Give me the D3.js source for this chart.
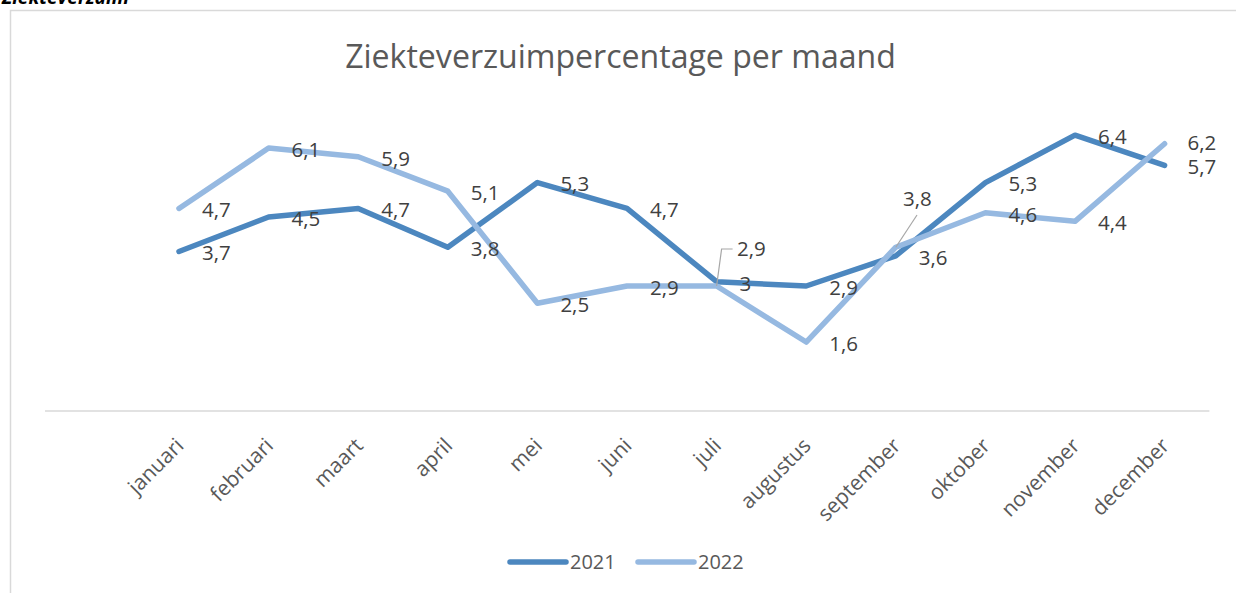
<!DOCTYPE html>
<html>
<head>
<meta charset="utf-8">
<script src="https://cdn.jsdelivr.net/npm/d3@7"></script>
<style>
  html, body { margin: 0; padding: 0; background: #fff; overflow: hidden; }
  svg { display: block; font-family: "Open Sans", sans-serif; }
</style>
</head>
<body>
<svg id="chart" width="1236" height="593"></svg>
<script>
const months = ["januari","februari","maart","april","mei","juni","juli","augustus","september","oktober","november","december"];
const values2021 = [3.7,4.5,4.7,3.8,5.3,4.7,3,2.9,3.6,5.3,6.4,5.7];
const values2022 = [4.7,6.1,5.9,5.1,2.5,2.9,2.9,1.6,3.8,4.6,4.4,6.2];
const seriesNames = ["2021","2022"];
const titleText = "Ziekteverzuimpercentage per maand";
const headingText = "Ziekteverzuim";

const colors = {"2021": "#4c87bf", "2022": "#96b9e1"};
const svg = d3.select("#chart");

// heading (cut off at top)
svg.append("text").attr("x", 2).attr("y", 4)
  .attr("font-weight", "bold").attr("font-style", "italic")
  .attr("font-size", 19).attr("fill", "#000").text(headingText);

// chart frame
svg.append("path").attr("d", "M10.5,593 V10.5 H1236")
  .attr("fill", "none").attr("stroke", "#d9d9d9").attr("stroke-width", 1.5);

const x = d3.scaleBand().domain(months).range([134.2, 1209.4]);
const cx = m => x(m) + x.bandwidth() / 2;
const y = d3.scaleLinear().domain([0, 7]).range([411, 109.3]);

// title
const title = svg.append("text").attr("x", 620.5).attr("y", 68)
  .attr("text-anchor", "middle").attr("fill", "#595959")
  .attr("font-size", 30).text(titleText);
const tw = title.node().getComputedTextLength();
title.attr("font-size", 30 * 551 / tw);

// category axis line
svg.append("line").attr("x1", 45).attr("x2", 1209.4).attr("y1", 411).attr("y2", 411)
  .attr("stroke", "#d9d9d9").attr("stroke-width", 1.5);

// category axis labels
const xAxis = d3.axisBottom(x).tickSize(0).tickPadding(0);
const gx = svg.append("g").attr("transform", "translate(0,411)").call(xAxis);
gx.select(".domain").remove();
gx.selectAll(".tick text")
  .attr("font-family", "Open Sans, sans-serif")
  .attr("font-size", 21).attr("fill", "#595959")
  .attr("text-anchor", "end")
  .attr("dy", 0).attr("y", 0)
  .attr("transform", "translate(6,36) rotate(-45)");

// lines
const line = d3.line().x((d, i) => cx(months[i])).y(d => y(d));
const data = {"2021": values2021, "2022": values2022};
seriesNames.forEach(s => {
  svg.append("path").datum(data[s]).attr("d", line)
    .attr("fill", "none").attr("stroke", colors[s]).attr("stroke-width", 5.5)
    .attr("stroke-linejoin", "round").attr("stroke-linecap", "round");
});

// data labels
const fmt = v => String(v).replace(".", ",");
seriesNames.forEach(s => {
  data[s].forEach((v, i) => {
    const px = cx(months[i]), py = y(v);
    const key = s + "-" + i;
    let lx = px + 23, ly = py + 1.5;
    if (i === 11) ly = py + (s === "2022" ? -1 : 1);
    if (key === "2022-6") {
      lx = 737; ly = 249;
      svg.append("polyline").attr("points", [[px, py], [px + 5, 249], [px + 16, 249]].map(p => p.join(",")).join(" "))
        .attr("fill", "none").attr("stroke", "#a6a6a6").attr("stroke-width", 1.2);
    }
    if (key === "2022-8") {
      lx = 903; ly = 199;
      svg.append("line").attr("x1", px).attr("y1", py).attr("x2", 917).attr("y2", 215)
        .attr("stroke", "#a6a6a6").attr("stroke-width", 1.2);
    }
    svg.append("text").attr("x", lx).attr("y", ly).attr("dy", "0.36em")
      .attr("font-size", 20.5).attr("fill", "#404040").text(fmt(v));
  });
});

// legend
const legendX = {"2021": 510, "2022": 638};
seriesNames.forEach(s => {
  svg.append("line").attr("x1", legendX[s]).attr("x2", legendX[s] + 56).attr("y1", 562).attr("y2", 562)
    .attr("stroke", colors[s]).attr("stroke-width", 5.5).attr("stroke-linecap", "round");
  svg.append("text").attr("x", legendX[s] + 60).attr("y", 562).attr("dy", "0.36em")
    .attr("font-size", 20).attr("fill", "#595959").text(s);
});
</script>
</body>
</html>
